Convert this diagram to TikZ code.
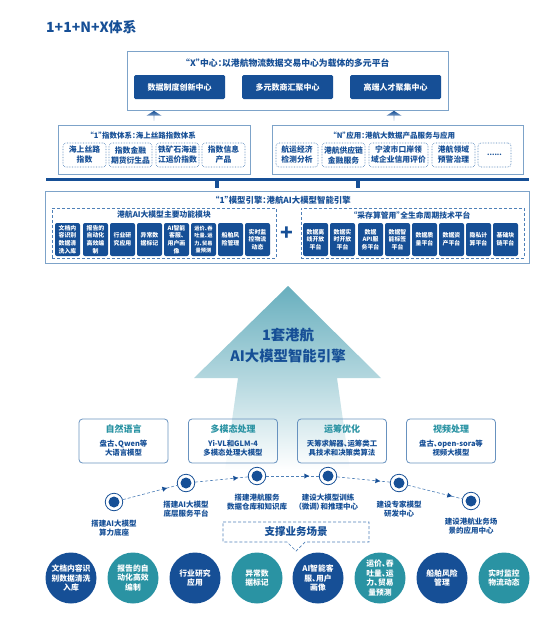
\documentclass[tikz,border=0pt]{standalone}
\usepackage{fontspec}
\setmainfont[RawFeature={+palt}]{Noto Sans CJK SC}
\usetikzlibrary{shapes.arrows,decorations.markings,arrows.meta}
\definecolor{navy}{HTML}{164F96}
\definecolor{teal2}{HTML}{2A93A3}
\definecolor{edgeblue}{HTML}{7DA3C9}
\definecolor{dashblue}{HTML}{4F80B8}
\definecolor{arrowtop}{HTML}{68AFBE}
\tikzset{
  panel/.style={draw=edgeblue,line width=0.9pt,fill=white,inner sep=0pt},
  solidbox/.style={fill=navy,rounded corners=1.5pt,text=white,inner sep=0pt,align=center,font=\fontsize{8}{10}\selectfont\bfseries},
  tinybox/.style={fill=navy,rounded corners=2pt,text=white,inner sep=0pt,align=center,minimum width=25pt,minimum height=33pt,font=\fontsize{5.9}{7.6}\selectfont\bfseries},
  softbox/.style={draw=dashblue,densely dotted,line width=0.6pt,rounded corners=3pt,inner sep=0pt,align=center,text=navy,minimum height=24pt,font=\fontsize{7.8}{10}\selectfont\bfseries},
  dashpanel/.style={draw=dashblue,densely dashed,line width=0.6pt,inner sep=0pt},
  heading/.style={text=navy,inner sep=0pt,font=\fontsize{7.5}{9}\selectfont\bfseries},
  upblock/.style={single arrow,shape border rotate=90,single arrow head extend=3.5pt,single arrow tip angle=115,minimum height=10pt,minimum width=15pt,inner sep=0pt,top color=navy,bottom color=navy!15},
  techcard/.style={draw=edgeblue!80!navy,line width=0.8pt,rounded corners=3.5pt,minimum width=89pt,minimum height=44pt,inner sep=0pt},
  cardhead/.style={text=teal2,inner sep=0pt,font=\fontsize{9}{10}\selectfont\bfseries},
  cardbody/.style={text=navy,inner sep=0pt,align=center,font=\fontsize{7.4}{9.2}\selectfont\bfseries},
  stepdot/.style={circle,fill=navy,minimum size=11pt,inner sep=0pt},
  stepring/.style={circle,draw=navy,line width=0.8pt,minimum size=17.5pt,inner sep=0pt},
  steptext/.style={text=navy,inner sep=0pt,align=center,font=\fontsize{7.5}{9.2}\selectfont\bfseries},
  disc/.style={circle,text=white,minimum size=51pt,inner sep=0pt,align=center,font=\fontsize{7.8}{9.4}\selectfont\bfseries},
  flow/.style={draw=dashblue,densely dashed,line width=0.6pt,postaction={decorate},decoration={markings,mark=at position 0.82 with {\arrow[navy,line width=0pt]{Latex[length=5pt,width=5pt]}}}},
}
\begin{document}
\begin{tikzpicture}[x=1pt,y=-1pt]
\useasboundingbox (0,0) rectangle (554,632);
\node[anchor=west,text=navy,inner sep=0pt,font=\fontsize{14}{15}\selectfont\bfseries] (title) at (46,27) {1+1+N+X体系};

% X centre
\node[panel,minimum width=321pt,minimum height=59pt] (xpanel) at (287.5,80.5) {};
\node[heading,font=\fontsize{8.8}{10}\selectfont\bfseries] (xhead) at (287.5,63) {“X”中心：以港航物流数据交易中心为载体的多元平台};
\foreach \n/\x/\t in {xa/179.5/数据制度创新中心,xb/287.5/多元数商汇聚中心,xc/395.5/高端人才聚集中心}
  \node[solidbox,minimum width=91pt,minimum height=24pt] (\n) at (\x,87) {\t};

% up arrows
\node[upblock] (upa) at (154,116) {};
\node[upblock] (upb) at (394,116) {};

% index system
\node[panel,minimum width=192pt,minimum height=49pt] (ipanel) at (154,149.5) {};
\node[heading] (ihead) at (143,136) {“1”指数体系：海上丝路指数体系};
\node[softbox,minimum width=43pt] (ia) at (84.5,155) {海上丝路\\指数};
\node[softbox,minimum width=43pt] (ib) at (130.5,155) {指数金融\\期货衍生品};
\node[softbox,minimum width=43pt] (ic) at (177.5,155) {铁矿石海进\\江运价指数};
\node[softbox,minimum width=43pt] (id) at (223.5,155) {指数信息\\产品};

% N applications
\node[panel,minimum width=251pt,minimum height=49pt] (npanel) at (397.5,149.5) {};
\node[heading] (nhead) at (394,136) {“N”应用：港航大数据产品服务与应用};
\node[softbox,minimum width=42pt] (na) at (297,155) {航运经济\\检测分析};
\node[softbox,minimum width=43pt] (nb) at (343.5,155) {港航供应链\\金融服务};
\node[softbox,minimum width=59pt] (nc) at (398.5,155) {宁波市口岸领\\域企业信用评价};
\node[softbox,minimum width=43pt] (nd) at (453.5,155) {港航领域\\预警治理};
\node[softbox,minimum width=33pt,font=\fontsize{7}{8}\selectfont\bfseries] (ne) at (494.5,155) {......};

% bar with two stems
\node[fill=navy,minimum width=483pt,minimum height=3pt,inner sep=0pt] (bar) at (287.5,179.5) {};
\node[fill=navy,minimum width=4pt,minimum height=7pt,inner sep=0pt] (stema) at (217,184) {};
\node[fill=navy,minimum width=4pt,minimum height=7pt,inner sep=0pt] (stemb) at (358,184) {};

% engine panel
\node[panel,minimum width=484pt,minimum height=72pt] (epanel) at (287,227) {};
\node[heading,font=\fontsize{8.4}{10}\selectfont\bfseries] (ehead) at (283,200) {“1”模型引擎：港航AI大模型智能引擎};
\node[dashpanel,minimum width=224pt,minimum height=50pt] (lpanel) at (164,233) {};
\node[dashpanel,minimum width=223pt,minimum height=50pt] (rpanel) at (412.5,233) {};
\node[heading,font=\fontsize{7.8}{10}\selectfont\bfseries] (lhead) at (164,215) {港航AI大模型主要功能模块};
\node[heading,font=\fontsize{7.8}{10}\selectfont\bfseries] (rhead) at (412,215) {“采存算管用”全生命周期技术平台};
\node[text=navy,inner sep=0pt,font=\fontsize{21}{21}\selectfont\bfseries] (plus) at (287,233.5) {+};
\node[tinybox] (l1) at (67.5,239.5) {文档内\\容识别\\数据清\\洗入库};
\node[tinybox] (l2) at (95.5,239.5) {报告的\\自动化\\高效编\\制};
\node[tinybox] (l3) at (122.5,239.5) {行业研\\究应用};
\node[tinybox] (l4) at (149.5,239.5) {异常数\\据标记};
\node[tinybox] (l5) at (176.5,239.5) {AI智能\\客服、\\用户画\\像};
\node[tinybox,font=\fontsize{5.2}{7.4}\selectfont\bfseries] (l6) at (203.5,239.5) {运价、吞\\吐量、运\\力、贸易\\量预测};
\node[tinybox] (l7) at (230.5,239.5) {船舶风\\险管理};
\node[tinybox] (l8) at (257.5,239.5) {实时监\\控物流\\动态};
\node[tinybox] (r1) at (315.5,239.5) {数据离\\线开放\\平台};
\node[tinybox] (r2) at (342.5,239.5) {数据实\\时开放\\平台};
\node[tinybox] (r3) at (370.5,239.5) {数据\\API服\\务平台};
\node[tinybox] (r4) at (397.5,239.5) {数据智\\能标签\\平台};
\node[tinybox] (r5) at (424.5,239.5) {数据质\\量平台};
\node[tinybox] (r6) at (451.5,239.5) {数据资\\产平台};
\node[tinybox] (r7) at (478.5,239.5) {隐私计\\算平台};
\node[tinybox] (r8) at (505.5,239.5) {基础块\\链平台};

% big arrow
\shade[top color=arrowtop,bottom color=white]
  (288,286) -- (381,378) -- (337,378) -- (350,470) -- (225,470) -- (238,378) -- (194,378) -- cycle;
\node[text=navy,inner sep=0pt,align=center,font=\fontsize{14.4}{21}\selectfont\bfseries] (big) at (288,345.5) {1套港航\\AI大模型智能引擎};

% technology cards
\foreach \n/\x/\h/\b in {
  ca/123.5/自然语言/{盘古、Qwen等\\大语言模型},
  cb/233/多模态处理/{Yi-VL和GLM-4\\多模态处理大模型},
  cc/342/运筹优化/{天筹求解器、运筹类工\\具技术和决策类算法},
  cd/451/视频处理/{盘古、open-sora等\\视频大模型}}{
  \node[techcard] (\n) at (\x,441) {};
  \node[cardhead] (\n h) at (\x,429) {\h};
  \node[cardbody] (\n b) at (\x,448.5) {\b};
}

% steps
\foreach \n/\x/\y in {s1/114/502,s2/186/483,s3/257/476,s4/328/476,s5/399/483,s6/471/501}{
  \node[stepring] (\n) at (\x,\y) {};
  \node[stepdot] (\n c) at (\x,\y) {};
}
\draw[flow] (s1) -- (s2);
\draw[flow] (s2) -- (s3);
\draw[flow] (s3) -- (s4);
\draw[flow] (s4) -- (s5);
\draw[flow] (s5) -- (s6);
\node[steptext] (t1) at (114,528.5) {搭建AI大模型\\算力底座};
\node[steptext] (t2) at (186,509.5) {搭建AI大模型\\底层服务平台};
\node[steptext] (t3) at (257,502.5) {搭建港航服务\\数据仓库和知识库};
\node[steptext] (t4) at (328,502.5) {建设大模型训练\\（微调）和推理中心};
\node[steptext] (t5) at (399,509.5) {建设专家模型\\研发中心};
\node[steptext] (t6) at (471,526.5) {建设港航业务场\\景的应用中心};

% support callout
\draw[dashblue,densely dashed,line width=0.7pt] (223,522) -- (369,522) -- (369,542) -- (305,542) -- (296,551) -- (287,542) -- (223,542) -- cycle;
\node[text=navy,inner sep=0pt,font=\fontsize{10.5}{12}\selectfont\bfseries] (sup) at (296,532) {支撑业务场景};

% discs
\node[disc,fill=navy] (d1) at (71,578) {文档内容识\\别数据清洗\\入库};
\node[disc,fill=teal2] (d2) at (133,578) {报告的自\\动化高效\\编制};
\node[disc,fill=navy] (d3) at (195,578) {行业研究\\应用};
\node[disc,fill=teal2] (d4) at (257,578) {异常数\\据标记};
\node[disc,fill=navy] (d5) at (318,578) {AI智能客\\服、用户\\画像};
\node[disc,fill=teal2] (d6) at (380,578) {运价、吞\\吐量、运\\力、贸易\\量预测};
\node[disc,fill=navy] (d7) at (442,578) {船舶风险\\管理};
\node[disc,fill=teal2] (d8) at (504,578) {实时监控\\物流动态};
\end{tikzpicture}
\end{document}
